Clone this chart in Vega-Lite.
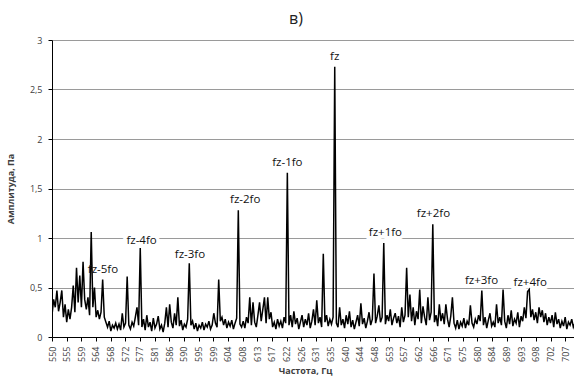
{
  "$schema": "https://vega.github.io/schema/vega-lite/v6.json",
  "width": 522,
  "height": 297,
  "autosize": {"type": "none"},
  "padding": {"left": 52, "top": 40, "right": 0, "bottom": 44},
  "background": "white",
  "title": {"text": "в)", "font": "Open Sans", "fontSize": 16, "fontWeight": "normal", "color": "#222222", "dx": -17, "offset": 9},
  "config": {"view": {"stroke": null}, "font": "Open Sans"},
  "datasets": {
    "spec": [
      {"f":550,"a":0.22},{"f":550.5,"a":0.38},{"f":551,"a":0.30},{"f":551.5,"a":0.47},{"f":552,"a":0.26},{"f":552.5,"a":0.35},{"f":553,"a":0.47},{"f":553.5,"a":0.20},{"f":554,"a":0.33},{"f":554.5,"a":0.15},
      {"f":555,"a":0.28},{"f":555.5,"a":0.18},{"f":556,"a":0.30},{"f":556.5,"a":0.52},{"f":557,"a":0.25},{"f":557.5,"a":0.70},{"f":558,"a":0.35},{"f":558.5,"a":0.62},{"f":559,"a":0.30},{"f":559.5,"a":0.76},
      {"f":560,"a":0.38},{"f":560.5,"a":0.28},{"f":561,"a":0.40},{"f":561.5,"a":0.22},{"f":562,"a":1.06},{"f":562.5,"a":0.30},{"f":563,"a":0.50},{"f":563.5,"a":0.20},{"f":564,"a":0.27},{"f":564.5,"a":0.18},
      {"f":565,"a":0.25},{"f":565.5,"a":0.58},{"f":566,"a":0.20},{"f":566.5,"a":0.15},{"f":567,"a":0.10},{"f":567.5,"a":0.16},{"f":568,"a":0.06},{"f":568.5,"a":0.12},{"f":569,"a":0.09},{"f":569.5,"a":0.14},
      {"f":570,"a":0.08},{"f":570.5,"a":0.13},{"f":571,"a":0.07},{"f":571.5,"a":0.24},{"f":572,"a":0.10},{"f":572.5,"a":0.14},{"f":573,"a":0.61},{"f":573.5,"a":0.12},{"f":574,"a":0.08},{"f":574.5,"a":0.15},
      {"f":575,"a":0.11},{"f":575.5,"a":0.20},{"f":576,"a":0.30},{"f":576.5,"a":0.12},{"f":577,"a":0.90},{"f":577.5,"a":0.10},{"f":578,"a":0.18},{"f":578.5,"a":0.07},{"f":579,"a":0.22},{"f":579.5,"a":0.10},
      {"f":580,"a":0.15},{"f":580.5,"a":0.06},{"f":581,"a":0.19},{"f":581.5,"a":0.09},{"f":582,"a":0.13},{"f":582.5,"a":0.21},{"f":583,"a":0.08},{"f":583.5,"a":0.12},{"f":584,"a":0.05},{"f":584.5,"a":0.14},
      {"f":585,"a":0.30},{"f":585.5,"a":0.10},{"f":586,"a":0.33},{"f":586.5,"a":0.15},{"f":587,"a":0.09},{"f":587.5,"a":0.24},{"f":588,"a":0.12},{"f":588.5,"a":0.40},{"f":589,"a":0.11},{"f":589.5,"a":0.17},
      {"f":590,"a":0.07},{"f":590.5,"a":0.13},{"f":591,"a":0.10},{"f":591.5,"a":0.18},{"f":592,"a":0.745},{"f":592.5,"a":0.12},{"f":593,"a":0.16},{"f":593.5,"a":0.08},{"f":594,"a":0.14},{"f":594.5,"a":0.06},
      {"f":595,"a":0.12},{"f":595.5,"a":0.09},{"f":596,"a":0.15},{"f":596.5,"a":0.07},{"f":597,"a":0.13},{"f":597.5,"a":0.10},{"f":598,"a":0.16},{"f":598.5,"a":0.08},{"f":599,"a":0.12},{"f":599.5,"a":0.24},
      {"f":600,"a":0.14},{"f":600.5,"a":0.10},{"f":601,"a":0.58},{"f":601.5,"a":0.16},{"f":602,"a":0.20},{"f":602.5,"a":0.12},{"f":603,"a":0.18},{"f":603.5,"a":0.09},{"f":604,"a":0.15},{"f":604.5,"a":0.11},
      {"f":605,"a":0.17},{"f":605.5,"a":0.08},{"f":606,"a":0.14},{"f":606.5,"a":0.19},{"f":607,"a":1.28},{"f":607.5,"a":0.13},{"f":608,"a":0.10},{"f":608.5,"a":0.16},{"f":609,"a":0.09},{"f":609.5,"a":0.20},
      {"f":610,"a":0.14},{"f":610.5,"a":0.40},{"f":611,"a":0.12},{"f":611.5,"a":0.35},{"f":612,"a":0.15},{"f":612.5,"a":0.10},{"f":613,"a":0.22},{"f":613.5,"a":0.35},{"f":614,"a":0.16},{"f":614.5,"a":0.28},
      {"f":615,"a":0.40},{"f":615.5,"a":0.14},{"f":616,"a":0.40},{"f":616.5,"a":0.18},{"f":617,"a":0.25},{"f":617.5,"a":0.10},{"f":618,"a":0.15},{"f":618.5,"a":0.08},{"f":619,"a":0.18},{"f":619.5,"a":0.11},
      {"f":620,"a":0.16},{"f":620.5,"a":0.09},{"f":621,"a":0.20},{"f":621.5,"a":0.14},{"f":622,"a":1.66},{"f":622.5,"a":0.12},{"f":623,"a":0.22},{"f":623.5,"a":0.10},{"f":624,"a":0.26},{"f":624.5,"a":0.13},
      {"f":625,"a":0.19},{"f":625.5,"a":0.08},{"f":626,"a":0.15},{"f":626.5,"a":0.22},{"f":627,"a":0.10},{"f":627.5,"a":0.18},{"f":628,"a":0.12},{"f":628.5,"a":0.24},{"f":629,"a":0.09},{"f":629.5,"a":0.16},
      {"f":630,"a":0.28},{"f":630.5,"a":0.12},{"f":631,"a":0.37},{"f":631.5,"a":0.14},{"f":632,"a":0.20},{"f":632.5,"a":0.10},{"f":633,"a":0.84},{"f":633.5,"a":0.15},{"f":634,"a":0.22},{"f":634.5,"a":0.11},
      {"f":635,"a":0.18},{"f":635.5,"a":0.13},{"f":636,"a":0.20},{"f":636.5,"a":2.73},{"f":637,"a":0.14},{"f":637.5,"a":0.10},{"f":638,"a":0.30},{"f":638.5,"a":0.12},{"f":639,"a":0.18},{"f":639.5,"a":0.09},
      {"f":640,"a":0.22},{"f":640.5,"a":0.13},{"f":641,"a":0.26},{"f":641.5,"a":0.10},{"f":642,"a":0.17},{"f":642.5,"a":0.08},{"f":643,"a":0.15},{"f":643.5,"a":0.22},{"f":644,"a":0.11},{"f":644.5,"a":0.34},
      {"f":645,"a":0.13},{"f":645.5,"a":0.19},{"f":646,"a":0.09},{"f":646.5,"a":0.16},{"f":647,"a":0.25},{"f":647.5,"a":0.12},{"f":648,"a":0.18},{"f":648.5,"a":0.64},{"f":649,"a":0.14},{"f":649.5,"a":0.21},
      {"f":650,"a":0.32},{"f":650.5,"a":0.15},{"f":651,"a":0.20},{"f":651.5,"a":0.95},{"f":652,"a":0.13},{"f":652.5,"a":0.22},{"f":653,"a":0.16},{"f":653.5,"a":0.28},{"f":654,"a":0.12},{"f":654.5,"a":0.19},
      {"f":655,"a":0.24},{"f":655.5,"a":0.14},{"f":656,"a":0.21},{"f":656.5,"a":0.10},{"f":657,"a":0.30},{"f":657.5,"a":0.15},{"f":658,"a":0.22},{"f":658.5,"a":0.70},{"f":659,"a":0.20},{"f":659.5,"a":0.43},
      {"f":660,"a":0.16},{"f":660.5,"a":0.30},{"f":661,"a":0.12},{"f":661.5,"a":0.26},{"f":662,"a":0.18},{"f":662.5,"a":0.48},{"f":663,"a":0.14},{"f":663.5,"a":0.31},{"f":664,"a":0.20},{"f":664.5,"a":0.12},
      {"f":665,"a":0.40},{"f":665.5,"a":0.17},{"f":666,"a":0.25},{"f":666.5,"a":1.14},{"f":667,"a":0.15},{"f":667.5,"a":0.22},{"f":668,"a":0.11},{"f":668.5,"a":0.33},{"f":669,"a":0.16},{"f":669.5,"a":0.24},
      {"f":670,"a":0.13},{"f":670.5,"a":0.33},{"f":671,"a":0.18},{"f":671.5,"a":0.10},{"f":672,"a":0.21},{"f":672.5,"a":0.40},{"f":673,"a":0.14},{"f":673.5,"a":0.09},{"f":674,"a":0.17},{"f":674.5,"a":0.08},
      {"f":675,"a":0.15},{"f":675.5,"a":0.11},{"f":676,"a":0.19},{"f":676.5,"a":0.09},{"f":677,"a":0.16},{"f":677.5,"a":0.12},{"f":678,"a":0.32},{"f":678.5,"a":0.14},{"f":679,"a":0.10},{"f":679.5,"a":0.18},
      {"f":680,"a":0.13},{"f":680.5,"a":0.22},{"f":681,"a":0.16},{"f":681.5,"a":0.47},{"f":682,"a":0.12},{"f":682.5,"a":0.20},{"f":683,"a":0.09},{"f":683.5,"a":0.17},{"f":684,"a":0.24},{"f":684.5,"a":0.11},
      {"f":685,"a":0.15},{"f":685.5,"a":0.10},{"f":686,"a":0.33},{"f":686.5,"a":0.14},{"f":687,"a":0.20},{"f":687.5,"a":0.12},{"f":688,"a":0.48},{"f":688.5,"a":0.16},{"f":689,"a":0.09},{"f":689.5,"a":0.22},
      {"f":690,"a":0.13},{"f":690.5,"a":0.27},{"f":691,"a":0.11},{"f":691.5,"a":0.18},{"f":692,"a":0.14},{"f":692.5,"a":0.25},{"f":693,"a":0.10},{"f":693.5,"a":0.21},{"f":694,"a":0.16},{"f":694.5,"a":0.30},
      {"f":695,"a":0.19},{"f":695.5,"a":0.46},{"f":696,"a":0.48},{"f":696.5,"a":0.20},{"f":697,"a":0.28},{"f":697.5,"a":0.17},{"f":698,"a":0.25},{"f":698.5,"a":0.14},{"f":699,"a":0.30},{"f":699.5,"a":0.20},
      {"f":700,"a":0.27},{"f":700.5,"a":0.15},{"f":701,"a":0.24},{"f":701.5,"a":0.12},{"f":702,"a":0.20},{"f":702.5,"a":0.14},{"f":703,"a":0.22},{"f":703.5,"a":0.10},{"f":704,"a":0.25},{"f":704.5,"a":0.13},
      {"f":705,"a":0.18},{"f":705.5,"a":0.09},{"f":706,"a":0.16},{"f":706.5,"a":0.11},{"f":707,"a":0.20},{"f":707.5,"a":0.08},{"f":708,"a":0.15},{"f":708.5,"a":0.12},{"f":709,"a":0.18},{"f":709.5,"a":0.10},{"f":710,"a":0.14}
    ],
    "labels": [
      {"t":"fz","f":636.5,"a":2.83},
      {"t":"fz-1fo","f":622.0,"a":1.76},
      {"t":"fz-2fo","f":609.1,"a":1.38},
      {"t":"fz-3fo","f":592.2,"a":0.83},
      {"t":"fz-4fo","f":577.4,"a":0.97},
      {"t":"fz-5fo","f":565.6,"a":0.68},
      {"t":"fz+1fo","f":652.0,"a":1.05},
      {"t":"fz+2fo","f":666.7,"a":1.24},
      {"t":"fz+3fo","f":681.4,"a":0.57},
      {"t":"fz+4fo","f":696.3,"a":0.55}
    ]
  },
  "encoding": {
    "x": {
      "field": "f", "type": "quantitative",
      "scale": {"domain": [550, 709.7], "nice": false, "zero": false},
      "axis": {
        "values": [550, 554.486, 558.971, 563.457, 567.943, 572.429, 576.914, 581.4, 585.886, 590.371, 594.857, 599.343, 603.829, 608.314, 612.8, 617.286, 621.771, 626.257, 630.743, 635.229, 639.714, 644.2, 648.686, 653.171, 657.657, 662.143, 666.629, 671.114, 675.6, 680.086, 684.571, 689.057, 693.543, 698.029, 702.514, 707],
        "labelExpr": "['550','555','559','564','568','572','577','581','586','590','595','599','604','608','613','617','622','626','631','635','640','644','648','653','657','662','666','671','675','680','684','689','693','698','702','707'][round((datum.value-550)/4.4857)]",
        "labelAngle": -90,
        "labelFontSize": 9,
        "labelColor": "#404040",
        "labelPadding": 5,
        "labelFlush": false,
        "labelOverlap": false,
        "labelSeparation": 0,
        "tickSize": 4,
        "tickColor": "#000000",
        "domainColor": "#000000",
        "grid": false,
        "title": "Частота, Гц",
        "titleFontSize": 9,
        "titleFontWeight": "bold",
        "titleColor": "#404040",
        "titlePadding": 5,
        "titleX": 253
      }
    },
    "y": {
      "field": "a", "type": "quantitative",
      "scale": {"domain": [0, 3], "nice": false},
      "axis": {
        "values": [0, 0.5, 1, 1.5, 2, 2.5, 3],
        "labelExpr": "replace(format(datum.value, '~g'), '.', ',')",
        "labelFontSize": 9,
        "labelColor": "#404040",
        "labelPadding": 6,
        "tickSize": 4,
        "tickColor": "#000000",
        "domainColor": "#000000",
        "grid": true,
        "gridColor": "#9a9a9a",
        "title": "Амплитуда, Па",
        "titleFontSize": 9,
        "titleFontWeight": "bold",
        "titleColor": "#404040",
        "titlePadding": 14
      }
    }
  },
  "layer": [
    {
      "data": {"name": "labels"},
      "mark": {"type": "text", "font": "Open Sans", "fontSize": 11.5, "fill": "white", "stroke": "white", "strokeWidth": 7, "baseline": "middle", "align": "center"},
      "encoding": {"text": {"field": "t"}}
    },
    {
      "data": {"name": "spec"},
      "mark": {"type": "line", "color": "black", "strokeWidth": 1.5, "clip": true}
    },
    {
      "data": {"name": "labels"},
      "mark": {"type": "text", "font": "Open Sans", "fontSize": 11.5, "fill": "#111111", "baseline": "middle", "align": "center"},
      "encoding": {"text": {"field": "t"}}
    }
  ]
}
